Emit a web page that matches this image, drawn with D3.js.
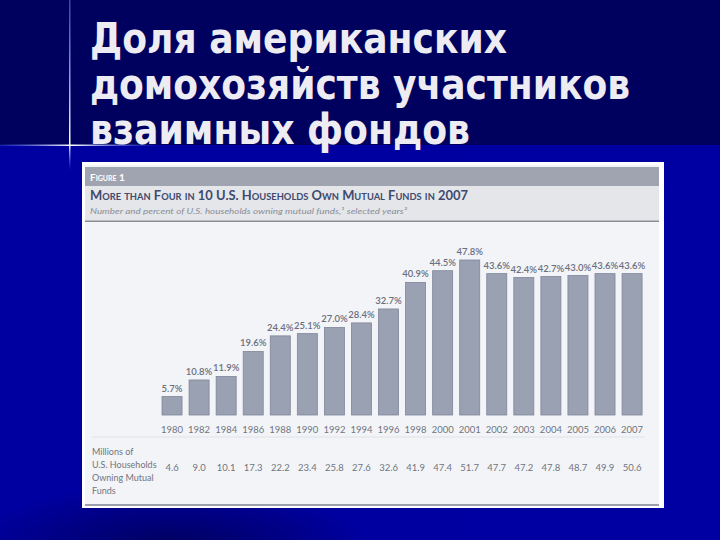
<!DOCTYPE html>
<html><head><meta charset="utf-8">
<script src="https://cdn.jsdelivr.net/npm/d3@7/dist/d3.min.js"></script>
<style>html,body{margin:0;padding:0;background:#000066;}svg{display:block;}</style>
</head><body>
<script>
const years = ["1980","1982","1984","1986","1988","1990","1992","1994","1996","1998","2000","2001","2002","2003","2004","2005","2006","2007"];
const percents = [5.7,10.8,11.9,19.6,24.4,25.1,27.0,28.4,32.7,40.9,44.5,47.8,43.6,42.4,42.7,43.0,43.6,43.6];
const millions = ["4.6","9.0","10.1","17.3","22.2","23.4","25.8","27.6","32.6","41.9","47.4","51.7","47.7","47.2","47.8","48.7","49.9","50.6"];
const titleLines = ["Доля американских","домохозяйств участников","взаимных фондов"];
const rowLabel = ["Millions of","U.S. Households","Owning Mutual","Funds"];
const figLabel = "Figure 1";
const chartTitle = "More than Four in 10 U.S. Households Own Mutual Funds in 2007";
const chartSub = "Number and percent of U.S. households owning mutual funds,¹ selected years²";

const W=720,H=540;
const svg=d3.select("body").append("svg").attr("width",W).attr("height",H);
const defs=svg.append("defs");
const g1=defs.append("linearGradient").attr("id","bandg").attr("x1",0).attr("x2",1).attr("y1",0).attr("y2",0);
g1.append("stop").attr("offset","0").attr("stop-color","#0000a0");
g1.append("stop").attr("offset","1").attr("stop-color","#0000a2");
const rg=defs.append("radialGradient").attr("id","dark").attr("cx","0.5").attr("cy","0.5").attr("r","0.5");
rg.append("stop").attr("offset","0").attr("stop-color","#000060").attr("stop-opacity",1);
rg.append("stop").attr("offset","1").attr("stop-color","#000060").attr("stop-opacity",0);
const hl=defs.append("linearGradient").attr("id","hl").attr("x1",0).attr("x2",1);
hl.append("stop").attr("offset","0").attr("stop-color","#6f8cff").attr("stop-opacity",0.2);
hl.append("stop").attr("offset","0.45").attr("stop-color","#ffffff").attr("stop-opacity",1);
hl.append("stop").attr("offset","1").attr("stop-color","#6f8cff").attr("stop-opacity",0);
const vl=defs.append("linearGradient").attr("id","vl").attr("x1",0).attr("x2",0).attr("y1",0).attr("y2",1);
vl.append("stop").attr("offset","0").attr("stop-color","#6f8cff").attr("stop-opacity",0.5);
vl.append("stop").attr("offset","0.85").attr("stop-color","#ffffff").attr("stop-opacity",1);
vl.append("stop").attr("offset","1").attr("stop-color","#6f8cff").attr("stop-opacity",0);

// background
svg.append("rect").attr("width",W).attr("height",H).attr("fill","#00005f");
svg.append("rect").attr("y",145).attr("width",W).attr("height",H-145).attr("fill","url(#bandg)");
svg.append("ellipse").attr("cx",170).attr("cy",545).attr("rx",200).attr("ry",60).attr("fill","url(#dark)");
svg.append("rect").attr("x",69).attr("y",0).attr("width",1.5).attr("height",170).attr("fill","url(#vl)");
svg.append("rect").attr("x",0).attr("y",144.5).attr("width",160).attr("height",1.5).attr("fill","url(#hl)");

// slide title
const tl=[{w:417,y:53},{w:540,y:99},{w:380,y:144}];
svg.append("g").selectAll("text").data(titleLines).join("text")
  .attr("x",90).attr("y",(d,i)=>tl[i].y)
  .attr("textLength",(d,i)=>tl[i].w).attr("lengthAdjust","spacingAndGlyphs")
  .attr("font-family","'DejaVu Sans Condensed','DejaVu Sans',sans-serif").attr("font-weight","bold")
  .attr("font-size",42).attr("fill","#ececf2").text(d=>d);

// panel
svg.append("rect").attr("x",82).attr("y",162).attr("width",582).attr("height",346).attr("fill","#ffffff");
svg.append("rect").attr("x",85).attr("y",165).attr("width",574).attr("height",340).attr("fill","#f3f4f7");
svg.append("rect").attr("x",85).attr("y",167).attr("width",574).attr("height",19).attr("fill","#a0a4b1");
svg.append("rect").attr("x",85).attr("y",186).attr("width",574).attr("height",35).attr("fill","#e5e6ea");
svg.append("rect").attr("x",85).attr("y",220.5).attr("width",574).attr("height",1.5).attr("fill","#8c8f98");
svg.append("rect").attr("x",85).attr("y",504).attr("width",574).attr("height",2).attr("fill","#9a9fab");

const pf="Lato,'Open Sans',sans-serif";
svg.append("text").attr("x",90).attr("y",181).attr("font-family",pf).attr("font-weight","bold")
  .attr("font-size",10).style("font-variant","small-caps").attr("fill","#ffffff").text(figLabel);
svg.append("text").attr("x",90).attr("y",200).attr("font-family",pf).attr("font-weight","bold")
  .attr("font-size",12.5).style("font-variant","small-caps").attr("fill","#3e4a6e")
  .attr("textLength",378).attr("lengthAdjust","spacingAndGlyphs").text(chartTitle);
svg.append("text").attr("x",90).attr("y",214).attr("font-family",pf).attr("font-style","italic")
  .attr("font-size",8.5).attr("fill","#8a8e98")
  .attr("textLength",317).attr("lengthAdjust","spacingAndGlyphs").text(chartSub);

// scales
const x=d3.scaleBand().domain(years).range([158.5,645.6]).paddingInner(0.26).paddingOuter(0.13);
const y=d3.scaleLinear().domain([0,47.8]).range([415,260]);

const data=years.map((yr,i)=>({yr,p:percents[i],m:millions[i]}));
svg.append("g").selectAll("rect").data(data).join("rect")
  .attr("x",d=>x(d.yr)).attr("width",x.bandwidth())
  .attr("y",d=>y(d.p)).attr("height",d=>y(0)-y(d.p))
  .attr("fill","#9aa1b2").attr("stroke","#7f869a").attr("stroke-width",0.8);

svg.append("g").selectAll("text").data(data).join("text")
  .attr("x",d=>x(d.yr)+x.bandwidth()/2).attr("y",d=>y(d.p)-5)
  .attr("text-anchor","middle").attr("font-family",pf).attr("font-weight","600")
  .attr("font-size",9.5).attr("fill","#6a6f7e").text(d=>d.p.toFixed(1)+"%");

// x axis (year labels)
const xa=svg.append("g").attr("transform","translate(0,420)")
  .call(d3.axisBottom(x).tickSize(0).tickPadding(6));
xa.select(".domain").remove();
xa.selectAll("text").attr("font-family",pf).attr("font-size",9.5).attr("fill","#70747f");

svg.append("rect").attr("x",92).attr("y",436.5).attr("width",553).attr("height",1).attr("fill","#dfe1e6");

svg.append("g").selectAll("text").data(rowLabel).join("text")
  .attr("x",92).attr("y",(d,i)=>455+i*13).attr("font-family",pf).attr("font-size",9)
  .attr("fill","#70747f").text(d=>d);
svg.append("g").selectAll("text").data(data).join("text")
  .attr("x",d=>x(d.yr)+x.bandwidth()/2).attr("y",471)
  .attr("text-anchor","middle").attr("font-family",pf).attr("font-size",9.5)
  .attr("fill","#70747f").text(d=>d.m);
</script>
</body></html>
